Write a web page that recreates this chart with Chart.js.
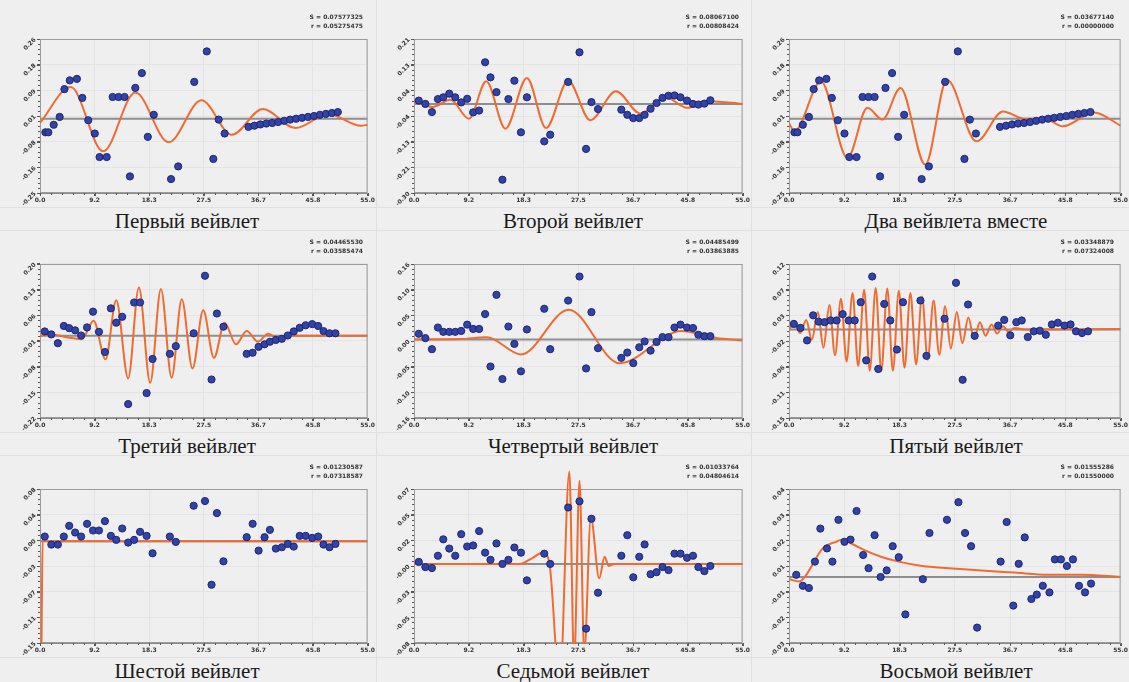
<!DOCTYPE html>
<html><head><meta charset="utf-8">
<script src="https://cdn.jsdelivr.net/npm/chart.js@4.4.1/dist/chart.umd.min.js"></script>
<style>
html,body{margin:0;padding:0;background:#efefef;}
#wrap{position:relative;width:1129px;height:682px;overflow:hidden;background:#efefef;}
.panel{position:absolute;}
.panel canvas{position:absolute;left:0;top:0;}
.title{position:absolute;font-family:"Liberation Serif","Times New Roman",serif;font-size:21px;line-height:24px;color:#1a1a1a;white-space:nowrap;transform:translateX(-50%);}
.stat{position:absolute;font-family:"DejaVu Sans",sans-serif;font-size:6px;font-weight:bold;color:#333;text-align:right;line-height:9px;white-space:nowrap;}
.sep{position:absolute;background:#e0e0e0;}
</style></head><body><div id="wrap"></div>
<script>
// ---------- axis ticks ----------
const xTickLabels = ['0.0','9.2','18.3','27.5','36.7','45.8','55.0'];
const titles = ['Первый вейвлет','Второй вейвлет','Два вейвлета вместе','Третий вейвлет','Четвертый вейвлет','Пятый вейвлет','Шестой вейвлет','Седьмой вейвлет','Восьмой вейвлет'];
const statS = ['S = 0.07577325','S = 0.08067100','S = 0.03677140','S = 0.04465530','S = 0.04485499','S = 0.03348879','S = 0.01230587','S = 0.01033764','S = 0.01555286'];
const statR = ['r = 0.05275475','r = 0.00808424','r = 0.00000000','r = 0.03585474','r = 0.03863885','r = 0.07324008','r = 0.07318587','r = 0.04804614','r = 0.01550000'];
const yMin = [-0.25,-0.30,-0.25,-0.22,-0.16,-0.15,-0.15,-0.08,-0.03];
const yMax = [0.26,0.21,0.26,0.20,0.16,0.12,0.08,0.07,0.04];
const yTickLabels1 = ['-0.25','-0.16','-0.08','0.01','0.09','0.18','0.26'];
const yTickLabels2 = ['-0.30','-0.21','-0.13','-0.04','0.04','0.13','0.21'];
const yTickLabels3 = ['-0.25','-0.16','-0.08','0.01','0.09','0.18','0.26'];
const yTickLabels4 = ['-0.22','-0.15','-0.08','-0.01','0.06','0.13','0.20'];
const yTickLabels5 = ['-0.16','-0.10','-0.05','0.00','0.05','0.10','0.16'];
const yTickLabels6 = ['-0.15','-0.11','-0.06','-0.02','0.03','0.07','0.12'];
const yTickLabels7 = ['-0.15','-0.11','-0.07','-0.03','0.00','0.04','0.08'];
const yTickLabels8 = ['-0.08','-0.05','-0.03','-0.00','0.02','0.05','0.07'];
const yTickLabels9 = ['-0.03','-0.02','-0.01','0.01','0.02','0.03','0.04'];
const zeroLevels = [-0.004,-0.005,-0.004,0.004,0.003,0.005,0.002,-0.003,0.0];

// ---------- observed points ----------
const xObs13 = [0.9,1.4,2.3,3.3,4.1,5.0,6.2,7.1,8.1,9.2,10.0,11.2,12.2,13.2,14.2,15.1,16.0,17.1,18.1,19.1,22.0,23.2,25.9,28.0,29.1,30.0,31.0,35.0,36.0,37.0,38.0,39.0,40.0,41.0,42.0,43.0,44.0,45.0,46.0,47.0,48.0,49.0,50.0];
const xObs = [0.8,1.9,3.0,4.0,4.9,5.9,6.9,7.9,8.9,9.9,10.9,11.9,12.8,13.8,14.8,15.8,16.8,17.9,18.9,21.8,22.8,25.8,27.7,28.8,29.7,30.8,34.7,35.7,36.7,37.7,38.6,39.6,40.6,41.6,42.6,43.6,44.6,45.7,46.7,47.6,48.6,49.6];
const xObs9 = [1.2,2.3,3.3,4.3,5.2,6.3,7.2,8.2,9.2,10.2,11.2,12.3,13.2,14.2,15.2,16.2,17.2,18.2,19.3,22.2,23.3,26.2,28.1,29.2,30.2,31.2,35.1,36.1,37.2,38.1,39.1,40.2,41.1,42.1,43.2,44.1,45.1,46.1,47.1,48.1,49.1,50.1];
const obs1 = [-0.049,-0.049,-0.024,0.002,0.094,0.123,0.128,0.065,-0.009,-0.053,-0.131,-0.131,0.068,0.068,0.068,-0.195,0.098,0.147,-0.064,0.009,-0.204,-0.162,0.118,0.219,-0.137,-0.007,-0.053,-0.031,-0.027,-0.023,-0.020,-0.018,-0.015,-0.011,-0.007,-0.004,-0.001,0.002,0.005,0.009,0.012,0.015,0.018];
const obs2 = [0.006,-0.005,-0.032,0.011,0.017,0.029,0.017,0.0,0.012,-0.033,-0.027,0.133,0.083,0.034,-0.256,0.011,0.072,-0.099,0.017,-0.129,-0.107,0.068,0.166,-0.154,0.001,-0.022,-0.024,-0.041,-0.052,-0.052,-0.041,-0.021,-0.002,0.015,0.022,0.023,0.017,0.006,-0.005,-0.007,-0.004,0.007];
const obs3 = obs1;
const obs4 = [0.016,0.008,-0.016,0.031,0.025,0.019,0.005,0.027,0.07,0.015,-0.04,0.079,0.04,0.056,-0.182,0.095,0.095,-0.152,-0.059,-0.045,-0.024,0.011,0.168,-0.115,0.065,0.029,-0.045,-0.042,-0.026,-0.019,-0.012,-0.007,-0.004,0.005,0.016,0.026,0.033,0.036,0.031,0.017,0.011,0.011];
const obs5 = [0.015,0.006,-0.017,0.028,0.019,0.019,0.019,0.021,0.034,0.025,0.025,0.056,-0.053,0.096,-0.079,0.03,-0.006,-0.063,0.024,0.067,-0.017,0.084,0.134,-0.057,0.06,-0.015,-0.035,-0.024,-0.046,-0.013,-0.001,-0.02,-0.002,0.008,0.008,0.028,0.034,0.028,0.027,0.013,0.01,0.01];
const obs6 = [0.015,0.008,-0.014,0.03,0.019,0.018,0.021,0.021,0.032,0.021,0.021,0.053,-0.049,0.098,-0.064,0.05,0.021,-0.03,0.053,0.056,-0.041,0.024,0.087,-0.083,0.049,-0.006,0.012,0.022,-0.005,0.018,0.021,-0.008,0.002,0.003,-0.004,0.014,0.017,0.012,0.014,0.002,-0.001,0.002];
const obs7 = [0.009,-0.003,-0.003,0.009,0.025,0.015,0.009,0.028,0.018,0.018,0.032,0.01,0.004,0.021,0.0,0.004,0.016,0.01,-0.016,0.009,0.001,0.055,0.062,-0.063,0.044,-0.028,0.008,0.028,-0.012,0.008,0.019,-0.009,-0.007,-0.002,-0.006,0.01,0.01,0.007,0.009,-0.003,-0.007,-0.002];
const obs8 = [-0.001,-0.006,-0.007,0.005,0.021,0.012,0.005,0.026,0.014,0.015,0.029,0.008,0.001,0.017,-0.003,0.001,0.013,0.008,-0.019,0.007,-0.003,0.052,0.058,-0.066,0.041,-0.031,0.005,0.025,-0.016,0.004,0.016,-0.013,-0.011,-0.006,-0.009,0.007,0.007,0.003,0.005,-0.006,-0.01,-0.005];
const obs9 = [0.001,-0.004,-0.005,0.007,0.022,0.013,0.007,0.026,0.016,0.017,0.03,0.01,0.004,0.019,0.0,0.003,0.014,0.009,-0.017,-0.001,0.02,0.026,0.034,0.02,0.014,-0.023,0.007,0.025,-0.013,0.006,0.018,-0.01,-0.008,-0.004,-0.007,0.008,0.008,0.005,0.008,-0.004,-0.007,-0.003];

// ---------- fitted wavelet curves (read at turning points) ----------
const fitX1 = [0,5.16,10.6,16.0,21.6,27.1,32.2,37.4,42.9,48.4,53.9,55];
const fitY1 = [-0.018,0.101,-0.112,0.083,-0.082,0.057,-0.057,0.028,-0.035,0.012,-0.027,-0.024];
const fitX2 = [0,3.1,6.1,9.2,12.1,15.3,18.9,22.1,25.8,29.5,33.8,37.9,42.1,45.7,49.5,55];
const fitY2 = [0.004,-0.015,0.009,-0.054,0.07,-0.087,0.081,-0.085,0.072,-0.059,0.037,-0.037,0.017,-0.018,0.004,-0.005];
const fitX3 = [0,0.9,5.3,9.7,13.0,15.5,18.5,22.6,26.2,31.1,35.5,39.1,42.4,45.4,50.6,55];
const fitY3 = [-0.018,-0.046,0.12,-0.134,0.032,-0.007,0.098,-0.156,0.125,-0.079,0.02,-0.004,-0.004,-0.029,0.017,-0.027];
const fitX4 = [0,2.0,4.5,7.0,9.0,11.0,12.8,14.8,16.6,18.5,20.3,22.1,23.8,25.6,27.4,29.2,31.0,32.9,34.7,36.6,38.3,40.2,42.5,55];
const fitY4 = [0.004,0.008,0.0,-0.005,0.045,-0.06,0.101,-0.112,0.136,-0.124,0.132,-0.11,0.104,-0.085,0.074,-0.056,0.04,-0.019,0.017,-0.012,0.01,-0.005,0.004,0.004];
const fitX5 = [0,7.8,12.2,17.9,25.9,34.4,44.8,50.6,55];
const fitY5 = [0.003,0.004,0.008,-0.028,0.065,-0.046,0.021,0.006,0.001];
const fitX6 = [0,0.93,1.87,2.85,3.79,4.78,5.71,6.70,7.63,8.62,9.55,10.54,11.47,12.46,13.39,14.38,15.31,16.30,17.23,18.22,19.15,20.14,21.08,22.06,23.0,23.98,24.92,25.9,26.84,27.83,28.76,29.75,30.68,31.67,32.6,33.59,34.52,35.5,36.4,37.4,39.1,55];
const fitY6 = [0.006,0.014,-0.001,0.022,-0.013,0.036,-0.027,0.048,-0.04,0.059,-0.051,0.069,-0.059,0.075,-0.067,0.078,-0.068,0.077,-0.067,0.073,-0.062,0.069,-0.056,0.063,-0.048,0.056,-0.039,0.046,-0.028,0.036,-0.019,0.026,-0.011,0.018,-0.006,0.014,-0.002,0.011,0.001,0.008,0.005,0.006];
const fitX7 = [0.25,0.45,0.9,55];
const fitY7 = [-0.15,0.008,0.002,0.002];
const fitX8 = [0,17.67,19.87,21.5,22.6,24.4,26.0,26.8,27.7,28.5,29.6,31.0,31.9,32.6,33.6,55];
const fitY8 = [-0.003,-0.003,0.003,0.008,0.0,-0.12,0.087,-0.1,0.078,-0.09,0.042,-0.017,0.004,-0.005,-0.003,-0.003];
const fitX9 = [0,1.76,2.6,5.6,7.8,8.9,10.5,12.7,15.5,18.2,22.1,26.5,31.9,37.4,42.9,48.4,55];
const fitY9 = [-0.001,-0.002,0.0,0.013,0.016,0.017,0.015,0.012,0.009,0.007,0.005,0.004,0.003,0.002,0.001,0.001,0.0];

const panels = [
  {ox:xObs13, oy:obs1, fx:fitX1, fy:fitY1, yl:yTickLabels1},
  {ox:xObs,   oy:obs2, fx:fitX2, fy:fitY2, yl:yTickLabels2},
  {ox:xObs13, oy:obs3, fx:fitX3, fy:fitY3, yl:yTickLabels3},
  {ox:xObs,   oy:obs4, fx:fitX4, fy:fitY4, yl:yTickLabels4},
  {ox:xObs,   oy:obs5, fx:fitX5, fy:fitY5, yl:yTickLabels5},
  {ox:xObs,   oy:obs6, fx:fitX6, fy:fitY6, yl:yTickLabels6},
  {ox:xObs,   oy:obs7, fx:fitX7, fy:fitY7, yl:yTickLabels7},
  {ox:xObs,   oy:obs8, fx:fitX8, fy:fitY8, yl:yTickLabels8, clipTop:true},
  {ox:xObs9,  oy:obs9, fx:fitX9, fy:fitY9, yl:yTickLabels9}
];

// ---------- layout ----------
const colLeft = [0,376,751], colW = [376,375,378], yAxisW = [40,38,38], rightPad = [3,4,7];
const rowTop = [0,225,450];
const titleCx = [187,197,205];
const wrap = document.getElementById('wrap');

function addSep(l,t,w,h){const d=document.createElement('div');d.className='sep';d.style.left=l+'px';d.style.top=t+'px';d.style.width=w+'px';d.style.height=h+'px';wrap.appendChild(d);}
addSep(376,0,1,682); addSep(751,0,1,682);
[0,225,450].forEach(t=>{addSep(0,t+207,1129,1); if(t>0) addSep(0,t+5,1129,1);});

const framePlugin = {
  id:'frame',
  beforeDatasetsDraw(chart){
    const {ctx, chartArea:a, scales} = chart;
    ctx.save();
    ctx.strokeStyle='#9a9a9a'; ctx.lineWidth=1;
    ctx.strokeRect(a.left+0.5,a.top+0.5,a.right-a.left-1,a.bottom-a.top-1);
    ctx.strokeStyle='#555';
    const xs = scales.x, ys = scales.y;
    for(let k=0;k<=30;k++){const v = 55*k/30; const px=Math.round(xs.getPixelForValue(v))+0.5; ctx.beginPath(); ctx.moveTo(px,a.bottom); ctx.lineTo(px,a.bottom+(k%5===0?3:2)); ctx.stroke();}
    for(let k=0;k<=30;k++){const v = ys.min+(ys.max-ys.min)*k/30; const py=Math.round(ys.getPixelForValue(v))+0.5; ctx.beginPath(); ctx.moveTo(a.left,py); ctx.lineTo(a.left-(k%5===0?3:2),py); ctx.stroke();}
    ctx.restore();
  }
};

panels.forEach((p,i)=>{
  const col=i%3, row=Math.floor(i/3);
  const div=document.createElement('div'); div.className='panel';
  div.style.left=colLeft[col]+'px'; div.style.top=rowTop[row]+'px';
  div.style.width=colW[col]+'px'; div.style.height='207px';
  const cv=document.createElement('canvas'); cv.width=colW[col]; cv.height=207;
  cv.style.width=colW[col]+'px'; cv.style.height='207px';
  div.appendChild(cv); wrap.appendChild(div);

  const st=document.createElement('div'); st.className='stat';
  st.style.left=(colLeft[col])+'px'; st.style.width='363px'; st.style.top=(rowTop[row]+12)+'px';
  st.innerHTML=statS[i]+'<br>'+statR[i]; wrap.appendChild(st);

  const tt=document.createElement('div'); tt.className='title';
  tt.style.left=(colLeft[col]+titleCx[col])+'px'; tt.style.top=(rowTop[row]+209)+'px';
  tt.textContent=titles[i]; wrap.appendChild(tt);

  const yv = p.yl.map((_,k)=>yMin[i]+(yMax[i]-yMin[i])*k/(p.yl.length-1));
  const xv = xTickLabels.map((_,k)=>55*k/(xTickLabels.length-1));
  const z = zeroLevels[i];

  new Chart(cv,{
    type:'scatter',
    data:{datasets:[
      {data:p.ox.map((x,k)=>({x:x,y:p.oy[k]})), pointRadius:3.6, pointBackgroundColor:'#3143a6', pointBorderColor:'#1c2573', pointBorderWidth:1, showLine:false, order:0},
      {data:p.fx.map((x,k)=>({x:x,y:p.fy[k]})), showLine:true, pointRadius:0, borderColor:'#ef6b30', borderWidth:2, cubicInterpolationMode:'monotone', order:1,
        clip: p.clipTop ? {left:1,top:26,right:1,bottom:1} : undefined},
      {data:[{x:0,y:z},{x:55,y:z}], showLine:true, pointRadius:0, borderColor:'#8e8e8e', borderWidth:2, order:2}
    ]},
    options:{
      responsive:false, animation:false, events:[], devicePixelRatio:1,
      layout:{padding:{left:0,top:39,right:rightPad[col],bottom:0}},
      plugins:{legend:{display:false},tooltip:{enabled:false}},
      scales:{
        x:{type:'linear',min:0,max:55,
          afterBuildTicks:a=>{a.ticks=xv.map(v=>({value:v}));},
          afterFit:s=>{s.height=14;},
          ticks:{callback:(v,idx)=>xTickLabels[idx],autoSkip:false,maxRotation:0,minRotation:0,padding:1,color:'#333',font:{family:'DejaVu Sans',size:6,weight:'bold'}},
          grid:{color:'#e4e4e4',tickLength:3,tickColor:'#555'},
          border:{color:'#8a8a8a'}},
        y:{type:'linear',min:yMin[i],max:yMax[i],
          afterBuildTicks:a=>{a.ticks=yv.map(v=>({value:v}));},
          afterFit:s=>{s.width=yAxisW[col];},
          ticks:{callback:(v,idx)=>p.yl[idx],autoSkip:false,minRotation:45,maxRotation:45,padding:2,color:'#333',font:{family:'DejaVu Sans',size:6,weight:'bold'}},
          grid:{color:'#e4e4e4',tickLength:3,tickColor:'#555'},
          border:{color:'#8a8a8a'}}
      }
    },
    plugins:[framePlugin]
  });
});
</script></body></html>
